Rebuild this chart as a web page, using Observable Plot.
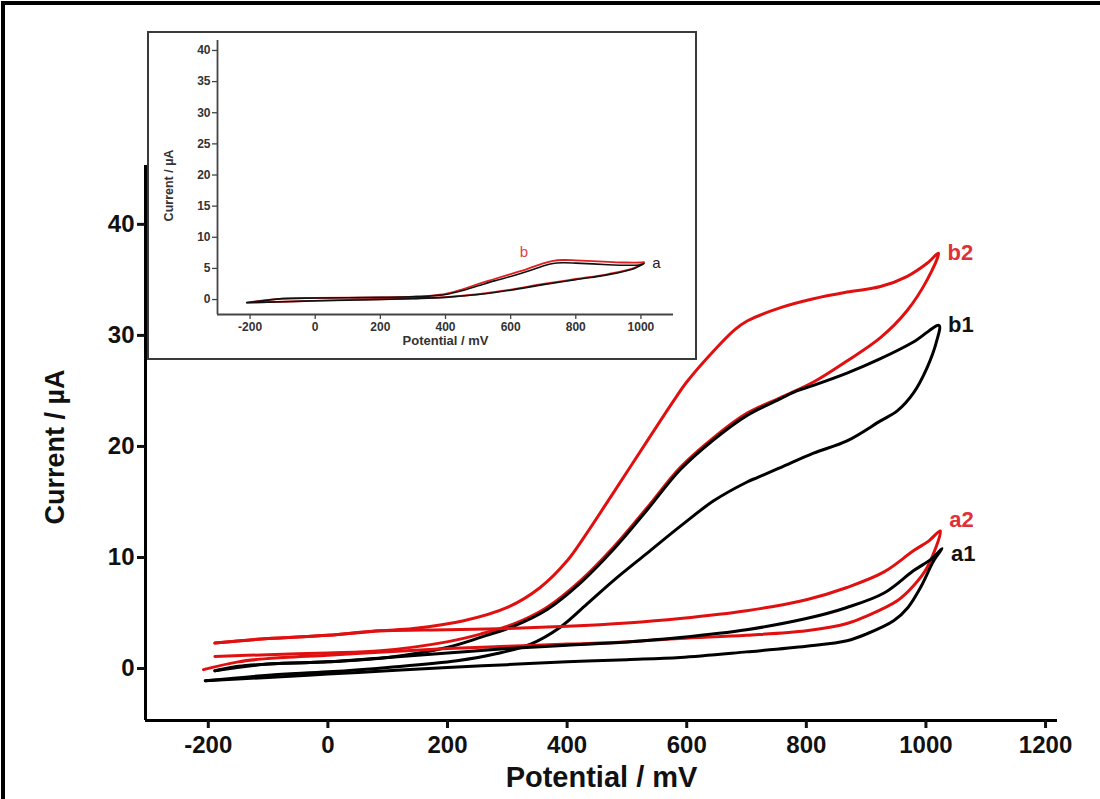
<!DOCTYPE html>
<html>
<head>
<meta charset="utf-8">
<script src="https://cdn.jsdelivr.net/npm/d3@7"></script>
<script src="https://cdn.jsdelivr.net/npm/@observablehq/plot@0.6"></script>
<style>
  html, body { margin: 0; padding: 0; background: #fff; }
  #wrap { position: relative; width: 1100px; height: 799px; overflow: hidden; background: #fff; }
  #main { position: absolute; left: 0; top: 0; }
  #inset { position: absolute; left: 147px; top: 31px; border: 2px solid #3a3a3a; background: #fff; line-height: 0; }
  #border { position: absolute; left: 1px; top: 1px; width: 1099px; height: 798px; box-sizing: border-box;
            border-top: 4px solid #000; border-left: 4px solid #000; pointer-events: none; }
</style>
</head>
<body>
<div id="wrap">
  <div id="main"></div>
  <div id="inset"></div>
  <div id="border"></div>
</div>
<script>
// ---------------- Main chart data (potential in mV, current in µA) ----------------
const b2Potential = [-189,-100,0,88,143,227,300,355,400,433,477,534,578,600,645,680,701,757,812,868,924,968,1002,1021,
                     1002,968,924,868,812,757,701,645,589,534,477,422,366,310,255,199,88,0,-100,-189];
const b2Current   = [2.3,2.7,3.0,3.4,3.6,4.3,5.5,7.3,9.7,12.2,15.8,20.5,24.1,25.8,28.6,30.5,31.3,32.5,33.3,33.9,34.4,35.3,36.5,37.4,
                     35.0,32.2,29.8,27.7,25.8,24.4,23.0,20.8,18.1,14.5,10.9,7.9,5.5,4.0,3.1,2.4,1.6,1.4,1.25,1.08];

const b1Potential = [-189,-150,-100,0,100,199,255,310,366,422,477,534,589,645,701,757,784,812,868,924,979,1022,
                     1018,1002,979,952,924,868,812,757,718,701,645,589,534,477,433,388,339,283,216,100,0,-100,-205];
const b1Current   = [-0.2,0.2,0.4,0.6,1.0,1.9,2.8,3.8,5.3,7.7,10.7,14.3,17.9,20.6,22.8,24.3,25.0,25.5,26.6,27.9,29.4,30.9,
                     29.5,27.1,24.8,23.2,22.3,20.5,19.4,18.1,17.2,16.8,15.1,12.8,10.4,7.9,5.8,3.7,2.2,1.35,0.7,0.1,-0.3,-0.6,-1.1];

const a2Potential = [-189,-100,0,88,200,300,400,500,589,700,800,868,930,979,1005,1024,
                     1002,980,952,900,868,800,700,589,500,400,300,200,100,0,-100,-150,-208];
const a2Current   = [2.3,2.7,3.0,3.4,3.5,3.6,3.8,4.1,4.5,5.2,6.2,7.3,8.7,10.6,11.5,12.4,
                     9.1,7.5,6.1,4.7,4.05,3.4,3.0,2.7,2.4,2.2,2.0,1.8,1.5,1.2,0.9,0.6,-0.1];

const a1Potential = [-189,-100,0,100,200,300,400,500,589,700,800,868,930,979,1010,1027,
                     1013,991,970,946,900,868,800,700,589,500,400,300,200,100,0,-100,-205];
const a1Current   = [-0.2,0.4,0.6,1.0,1.4,1.8,2.1,2.4,2.8,3.5,4.5,5.5,6.8,8.8,9.9,10.8,
                     9.7,7.3,5.5,4.3,3.1,2.5,2.0,1.5,1.0,0.8,0.6,0.35,0.1,-0.2,-0.5,-0.8,-1.1];

const curveNames  = ["b2", "b1", "a2", "a1"];
const curveColors = ["#e01010", "#000000", "#e01010", "#000000"];
const labelColors = ["#e0303a", "#111111", "#e0303a", "#111111"];

const mainXTicks = [-200, 0, 200, 400, 600, 800, 1000, 1200];
const mainYTicks = [0, 10, 20, 30, 40];

// ---------------- Inset data ----------------
const insetPotential = [-210,-150,-100,0,100,200,300,350,400,450,500,550,600,650,700,730,760,800,900,950,1000,1010,
                        980,900,800,700,600,500,400,300,200,100,0,-100,-210];
const insetACurrent  = [-0.5,-0.1,0.15,0.25,0.3,0.35,0.45,0.55,0.8,1.4,2.2,3.0,3.7,4.5,5.4,5.8,5.9,5.85,5.6,5.5,5.6,5.8,
                        5.0,4.0,3.2,2.4,1.5,0.8,0.35,0.15,0.0,-0.1,-0.2,-0.35,-0.5];
const insetBCurrent  = [-0.5,-0.1,0.15,0.25,0.3,0.35,0.45,0.6,0.9,1.6,2.5,3.3,4.1,4.9,5.8,6.2,6.35,6.3,6.05,5.95,5.95,6.0,
                        5.1,4.1,3.3,2.5,1.6,0.85,0.4,0.2,0.05,-0.05,-0.2,-0.35,-0.5];
const insetXTicks = [-200, 0, 200, 400, 600, 800, 1000];
const insetYTicks = [0, 5, 10, 15, 20, 25, 30, 35, 40];

// ---------------- Build tables ----------------
const toRows = (px, cy) => px.map((p, i) => ({potential: p, current: cy[i]}));
const mainSeries = [
  toRows(b2Potential, b2Current),
  toRows(b1Potential, b1Current),
  toRows(a2Potential, a2Current),
  toRows(a1Potential, a1Current)
];
const tipRows = mainSeries.map((rows, i) => {
  const tip = rows.reduce((m, r) => r.potential > m.potential ? r : m, rows[0]);
  return {potential: tip.potential, current: tip.current, name: curveNames[i], color: labelColors[i]};
});
const fmt = d => String(d);

const font = "'Liberation Sans', Arial, Helvetica, sans-serif";
const X0 = -305, X1 = 1220, Y0 = -4.68, Y1 = 45.3;
const labelDy = {b2: 0, b1: 0, a2: -11, a1: 5};

const main = Plot.plot({
  width: 1100, height: 799,
  marginLeft: 145, marginRight: 43, marginTop: 165, marginBottom: 79,
  x: {domain: [X0, X1]},
  y: {domain: [Y0, Y1]},
  style: {fontFamily: font, background: "transparent", color: "#111"},
  marks: [
    Plot.ruleX([X0], {strokeWidth: 3, stroke: "#000"}),
    Plot.ruleY([Y0], {strokeWidth: 3, stroke: "#000"}),
    Plot.axisY(mainYTicks, {tickSize: 8, strokeWidth: 3, tickPadding: 3, fontSize: 24, fontWeight: "bold", label: null, fill: "#111", tickFormat: fmt}),
    Plot.axisX(mainXTicks, {tickSize: 8, strokeWidth: 3, tickPadding: 7, fontSize: 24, fontWeight: "bold", label: null, fill: "#111", tickFormat: fmt}),
    ...mainSeries.map((rows, i) => Plot.line(rows, {x: "potential", y: "current", stroke: curveColors[i], strokeWidth: 3, curve: "catmull-rom"})),
    ...tipRows.map(t => Plot.text([t], {x: "potential", y: "current", text: "name", fill: "color", dx: 9, dy: labelDy[t.name], textAnchor: "start", fontSize: 22, fontWeight: "bold"})),
    Plot.text(["Potential / mV"], {frameAnchor: "bottom", textAnchor: "middle", dy: 66, fontSize: 29, fontWeight: "bold", fill: "#111"}),
    Plot.text(["Current / µA"], {frameAnchor: "left", textAnchor: "middle", rotate: -90, dx: -90, dy: 4, fontSize: 27, fontWeight: "bold", fill: "#111"})
  ]
});
document.getElementById("main").appendChild(main);

// ---------------- Inset ----------------
const IX0 = -300, IX1 = 1100, IY0 = -2.4, IY1 = 41.6;
const insetA = toRows(insetPotential, insetACurrent);
const insetB = toRows(insetPotential, insetBCurrent);
const tipA = insetA.reduce((m, r) => r.potential > m.potential ? r : m, insetA[0]);
const peakB = insetB[insetPotential.indexOf(650)];

const inset = Plot.plot({
  width: 546, height: 325,
  marginLeft: 68, marginRight: 22, marginTop: 7, marginBottom: 44,
  x: {domain: [IX0, IX1]},
  y: {domain: [IY0, IY1]},
  style: {fontFamily: font, background: "#fff", color: "#333"},
  marks: [
    Plot.ruleX([IX0], {strokeWidth: 1.8, stroke: "#444"}),
    Plot.ruleY([IY0], {strokeWidth: 1.8, stroke: "#444"}),
    Plot.axisY(insetYTicks, {tickSize: 5, strokeWidth: 1.3, tickPadding: 2, fontSize: 12, fontWeight: "bold", label: null, fill: "#333", stroke: "#444", tickFormat: fmt}),
    Plot.axisX(insetXTicks, {tickSize: 5, strokeWidth: 1.3, tickPadding: 3, fontSize: 12, fontWeight: "bold", label: null, fill: "#333", stroke: "#444", tickFormat: fmt}),
    Plot.line(insetB, {x: "potential", y: "current", stroke: "#e02020", strokeWidth: 1.8, curve: "catmull-rom"}),
    Plot.line(insetA, {x: "potential", y: "current", stroke: "#111", strokeWidth: 1.6, curve: "catmull-rom"}),
    Plot.text([tipA], {x: "potential", y: "current", text: () => "a", dx: 8, textAnchor: "start", fontSize: 15, fill: "#222"}),
    Plot.text([peakB], {x: "potential", y: "current", text: () => "b", dy: -17, dx: -3, fontSize: 15, fill: "#e04050"}),
    Plot.text(["Potential / mV"], {frameAnchor: "bottom", textAnchor: "middle", dy: 30, fontSize: 13, fontWeight: "bold", fill: "#333"}),
    Plot.text(["Current / µA"], {frameAnchor: "left", textAnchor: "middle", rotate: -90, dx: -49, dy: 8, fontSize: 12.5, fontWeight: "bold", fill: "#333"})
  ]
});
document.getElementById("inset").appendChild(inset);
</script>
</body>
</html>
